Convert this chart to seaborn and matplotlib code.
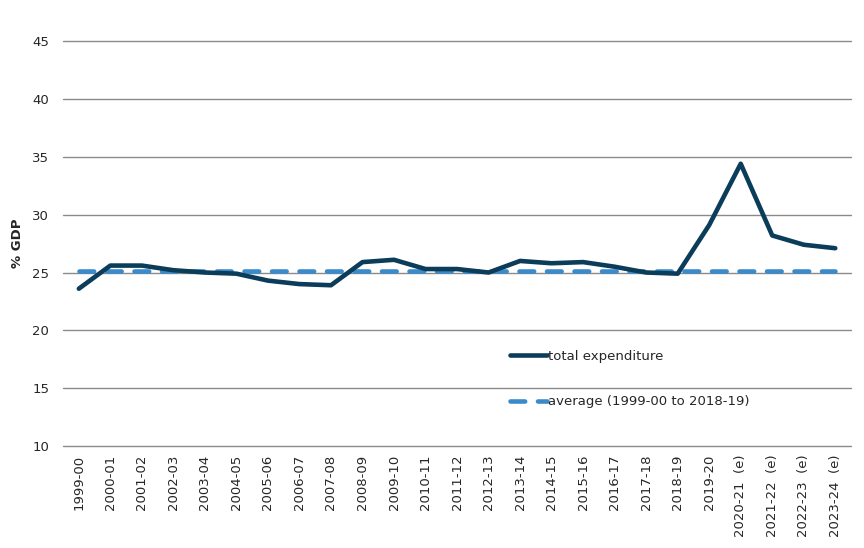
import matplotlib
matplotlib.use("Agg")
import matplotlib.pyplot as plt
import seaborn as sns
import pandas as pd

# financial years shown on the x axis
years = ["1999-00", "2000-01", "2001-02", "2002-03", "2003-04", "2004-05",
         "2005-06", "2006-07", "2007-08", "2008-09", "2009-10", "2010-11",
         "2011-12", "2012-13", "2013-14", "2014-15", "2015-16", "2016-17",
         "2017-18", "2018-19", "2019-20", "2020-21  (e)", "2021-22  (e)",
         "2022-23  (e)", "2023-24  (e)"]

# total expenditure, % of GDP
total_exp = [23.6, 25.6, 25.6, 25.2, 25.0, 24.9, 24.3, 24.0, 23.9, 25.9,
             26.1, 25.3, 25.3, 25.0, 26.0, 25.8, 25.9, 25.5, 25.0, 24.9,
             29.1, 34.4, 28.2, 27.4, 27.1]

# average 1999-00 to 2018-19, drawn across the whole period
avg_value = 25.1
avg_line = [avg_value] * len(years)

df = pd.DataFrame({"year": years, "total": total_exp, "avg": avg_line})

sns.set_style("white")
plt.rcParams["font.family"] = ["DejaVu Sans"]

fig = plt.figure(figsize=(8.64, 5.48), dpi=100)
ax = fig.add_axes([0.073, 0.186, 0.912, 0.739])

sns.lineplot(data=df, x="year", y="avg", ax=ax, color="#3B8BCB",
             linewidth=3.3, sort=False, label="average (1999-00 to 2018-19)")
ax.lines[-1].set_dashes([3.2, 2.8])
ax.lines[-1].set_dash_capstyle("round")
sns.lineplot(data=df, x="year", y="total", ax=ax, color="#0B3D5B",
             linewidth=3.3, sort=False, label="total expenditure")

ax.set_ylim(10, 45)
ax.set_yticks(range(10, 50, 5))
ax.set_xlim(-0.5, len(years) - 0.5)
ax.yaxis.grid(True, color="#8a8a8a", linewidth=1.0)
for gl in ax.get_ygridlines():
    gl.set_clip_on(False)
ax.set_axisbelow(True)
for s in ax.spines.values():
    s.set_visible(False)
ax.tick_params(axis="both", length=0, labelsize=9.5)
ax.tick_params(axis="y", pad=10)
ax.tick_params(axis="x", pad=6)
plt.setp(ax.get_xticklabels(), rotation=90)
ax.set_xlabel("")
ax.set_ylabel("% GDP", fontsize=9.5, fontweight="bold", labelpad=6)

handles, labels = ax.get_legend_handles_labels()
ax.legend(handles[::-1], labels[::-1], loc="upper left",
          bbox_to_anchor=(0.567, 0.237), frameon=False, fontsize=9.5,
          labelspacing=2.45, handlelength=2.8, handletextpad=0.1,
          borderpad=0, borderaxespad=0)

fig.savefig("out.png", dpi=100)
